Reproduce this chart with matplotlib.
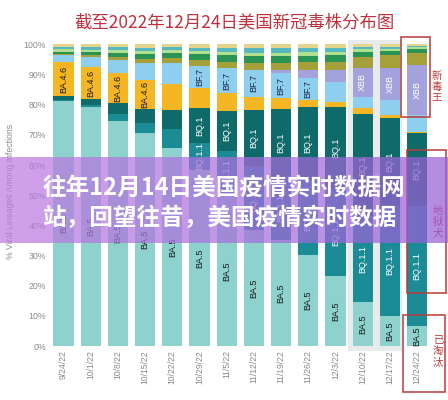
import matplotlib
matplotlib.use('Agg')
import matplotlib.pyplot as plt
import numpy as np
from matplotlib.patches import Rectangle

plt.rcParams['font.family'] = ['Liberation Sans', 'Noto Sans CJK SC', 'DejaVu Sans']

# ---------------- data ----------------
dates = ['9/24/22', '10/1/22', '10/8/22', '10/15/22', '10/22/22', '10/29/22', '11/5/22',
         '11/12/22', '11/19/22', '11/26/22', '12/3/22', '12/10/22', '12/17/22', '12/24/22']

ba5      = [81.4, 79.4, 74.6, 70.7, 65.7, 58.4, 49.8, 38.5, 35.2, 30.2, 23.2, 14.5, 10.0, 6.6]
bq11     = [0.3, 0.6, 2.2, 3.4, 6.3, 8.9, 15.0, 21.2, 21.2, 25.0, 29.0, 28.5, 36.5, 39.9]
bq1      = [1.3, 1.8, 3.7, 4.5, 6.3, 11.5, 13.0, 18.6, 22.2, 24.2, 27.2, 33.8, 29.0, 24.1]
ba46     = [11.1, 10.8, 10.0, 9.6, 8.6, 6.8, 6.1, 4.4, 3.6, 2.2, 1.6, 2.0, 1.1, 0.5]
bf7      = [2.4, 3.4, 4.4, 5.6, 6.9, 7.4, 8.3, 8.8, 8.3, 7.2, 6.7, 3.9, 5.0, 5.5]
xbb      = [0.0, 0.0, 0.0, 0.0, 0.0, 0.0, 0.0, 0.0, 1.0, 2.7, 3.8, 9.4, 10.5, 16.6]
bn1      = [0.3, 0.5, 1.0, 1.5, 1.8, 2.0, 2.0, 2.3, 2.3, 2.6, 2.8, 3.9, 4.4, 4.0]
ba2752   = [0.8, 0.9, 1.2, 1.5, 1.5, 1.8, 2.2, 2.3, 2.3, 2.2, 2.1, 1.6, 1.4, 1.2]
ba275    = [0.8, 0.9, 1.0, 1.1, 1.0, 1.1, 1.1, 1.2, 1.2, 1.2, 1.2, 0.8, 0.7, 0.6]
bf11     = [0.7, 0.8, 0.9, 1.0, 0.9, 1.0, 1.3, 1.4, 1.4, 1.3, 1.2, 0.8, 0.7, 0.5]
other    = [0.9, 0.9, 1.0, 1.1, 1.0, 1.1, 1.2, 1.3, 1.3, 1.2, 1.2, 0.8, 0.7, 0.5]

lineages = ['BA.5', 'BQ.1.1', 'BQ.1', 'BA.4.6', 'BF.7', 'XBB', 'BN.1', 'BA.2.75.2', 'BA.2.75', 'BF.11', 'Other']
series = [ba5, bq11, bq1, ba46, bf7, xbb, bn1, ba2752, ba275, bf11, other]
colors = ['#8dd2cc', '#1b8c96', '#0f6a6a', '#f5b623', '#8ecff0', '#a3a2dd',
          '#a5a03a', '#2a9455', '#b0e08e', '#56b9c0', '#e5d48c']

# which bars carry an in-bar label (by index)
labelled = {
    'BA.5': list(range(14)),
    'BQ.1.1': list(range(5, 14)),
    'BQ.1': list(range(5, 14)),
    'BA.4.6': [0, 1, 2, 3],
    'BF.7': [5, 6, 7, 8, 9],
    'XBB': [11, 12, 13],
}
label_color = {'BA.5': '#1a1a1a', 'BQ.1.1': 'white', 'BQ.1': 'white',
               'BA.4.6': '#1a1a1a', 'BF.7': '#1a2a48', 'XBB': 'white'}

title = '截至2022年12月24日美国新冠毒株分布图'
banner1 = '往年12月14日美国疫情实时数据网'
banner2 = '站，回望往昔，美国疫情实时数据'

# ---------------- figure ----------------
fig = plt.figure(figsize=(4.48, 4.0), dpi=100)
fig.patch.set_facecolor('white')
ax = fig.add_axes([0.1114, 0.135, 0.8498, 0.7538])

x = np.arange(len(dates))
width = 0.74

# grey highlight behind the two most recent-but-one bars
ax.add_patch(Rectangle((10.46, -1.5), 1.97, 103.0, facecolor='#e7ebeb',
                       edgecolor='none', zorder=0, clip_on=False))

bottom = np.zeros(len(dates))
for name, vals, col in zip(lineages, series, colors):
    vals = np.array(vals)
    ax.bar(x, vals, width, bottom=bottom, color=col, edgecolor='none', zorder=2)
    if name in labelled:
        for i in labelled[name]:
            if vals[i] > 0:
                ax.text(x[i], bottom[i] + vals[i] / 2, name, rotation=90,
                        ha='center', va='center', fontsize=6.5,
                        color=label_color[name], zorder=3)
    bottom += vals

ax.set_xlim(-0.5, 13.5)
ax.set_ylim(0, 100)
ax.set_yticks(np.arange(0, 101, 10))
ax.set_yticklabels([f'{v}%' for v in range(0, 101, 10)], fontsize=6.3, color='#8a8a8a')
ax.set_xticks(x)
ax.set_xticklabels(dates, rotation=90, fontsize=6.2, color='#8a8a8a')
ax.tick_params(length=0, pad=3)
for s in ax.spines.values():
    s.set_visible(False)
ax.set_facecolor('none')

fig.text(11 / 448, 1 - 191.5 / 400, '% Viral Lineages Among Infections', rotation=90,
         ha='center', va='center', fontsize=6.3, color='#8a8a8a')

fig.text(234 / 448, 1 - 22.5 / 400, title, ha='center', va='center', fontsize=12.5,
         color='#c0303c', family=['Noto Sans CJK SC', 'DejaVu Sans'])

# red annotation boxes
red = '#b83a3a'
for (x0, y0, w, h) in [(12.41, 76.0, 1.07, 26.5), (12.62, 17.7, 1.45, 47.3), (12.49, -15.2, 1.54, 25.5)]:
    ax.add_patch(Rectangle((x0, y0), w, h, fill=False, edgecolor=red, lw=1.1,
                           zorder=4, clip_on=False))

fig.text(437 / 448, 1 - 87 / 400, '新\n毒\n王', ha='center', va='center', fontsize=7.5,
         color=red, linespacing=1.15, family=['Noto Sans CJK SC'])
fig.text(438 / 448, 1 - 222 / 400, '地\n狱\n犬', ha='center', va='center', fontsize=7.5,
         color=red, linespacing=1.15, family=['Noto Sans CJK SC'])
fig.text(438 / 448, 1 - 351 / 400, '已\n淘\n汰', ha='center', va='center', fontsize=7.5,
         color=red, linespacing=1.15, family=['Noto Sans CJK SC'])

# translucent purple banner
bax = fig.add_axes([0, (400 - 243) / 400, 1, 86 / 400], zorder=10)
grad = np.zeros((2, 200, 4))
t = np.linspace(0, 1, 200)
grad[..., 0] = (190 - 40 * t) / 255
grad[..., 1] = (125 - 30 * t) / 255
grad[..., 2] = (225 - 10 * t) / 255
grad[..., 3] = 0.72
bax.imshow(grad, aspect='auto', extent=[0, 1, 0, 1], interpolation='bilinear')
bax.set_xlim(0, 1)
bax.set_ylim(0, 1)
bax.axis('off')

bax.text(42 / 448, (243 - 188) / 86, banner1, ha='left', va='center', fontsize=17,
         fontweight='bold', color='white', family=['Noto Sans CJK SC', 'DejaVu Sans'])
bax.text(42 / 448, (243 - 218) / 86, banner2, ha='left', va='center', fontsize=17,
         fontweight='bold', color='white', family=['Noto Sans CJK SC', 'DejaVu Sans'])

fig.savefig('out.png', dpi=100)
